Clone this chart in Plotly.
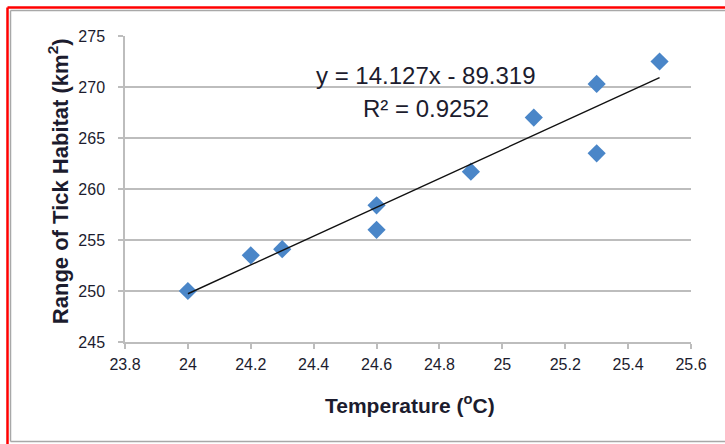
import plotly.graph_objects as go

# Data
temperature_c = [24.0, 24.2, 24.3, 24.6, 24.6, 24.9, 25.1, 25.3, 25.3, 25.5]
tick_habitat_km2 = [250.0, 253.5, 254.1, 258.4, 256.0, 261.7, 267.0, 270.3, 263.5, 272.5]

# Trendline as printed on the chart
slope = 14.127
intercept = -89.319
r_squared = 0.9252

x_ticks = [23.8, 24.0, 24.2, 24.4, 24.6, 24.8, 25.0, 25.2, 25.4, 25.6]
x_tick_labels = ["23.8", "24", "24.2", "24.4", "24.6", "24.8", "25", "25.2", "25.4", "25.6"]
y_ticks = [245, 250, 255, 260, 265, 270, 275]

trend_x = [min(temperature_c), max(temperature_c)]
trend_y = [slope * v + intercept for v in trend_x]

FONT = "Liberation Sans, Arial, sans-serif"
TXT = "#1c1c2e"
GRID = "#bdbdbd"

L, R, T, B = 125, 34, 36, 102

fig = go.Figure()
fig.add_trace(go.Scatter(
    x=temperature_c, y=tick_habitat_km2, mode="markers",
    marker=dict(symbol="diamond", size=14, color="#4a86c8",
                line=dict(width=0)),
    showlegend=False, hoverinfo="x+y"))
fig.add_trace(go.Scatter(
    x=trend_x, y=trend_y, mode="lines",
    line=dict(color="#111111", width=1.4),
    showlegend=False, hoverinfo="skip"))

fig.update_layout(
    width=725, height=444,
    margin=dict(l=L, r=R, t=T, b=B),
    paper_bgcolor="white", plot_bgcolor="white",
    font=dict(family=FONT, color=TXT),
    xaxis=dict(range=[23.8, 25.6], tickvals=x_ticks, ticktext=x_tick_labels,
               showgrid=False, zeroline=False,
               showline=True, linecolor=GRID, linewidth=1.5,
               ticks="outside", ticklen=5, tickcolor=GRID, tickwidth=1.5,
               tickfont=dict(size=16, color=TXT, family=FONT),
               ticklabelstandoff=2),
    yaxis=dict(range=[245, 275], tickvals=y_ticks,
               showgrid=True, gridcolor=GRID, gridwidth=1.5, zeroline=False,
               showline=True, linecolor=GRID, linewidth=1.5,
               ticks="outside", ticklen=5, tickcolor=GRID, tickwidth=1.5,
               tickfont=dict(size=16, color=TXT, family=FONT),
               ticklabelstandoff=10),
    annotations=[
        dict(text="Temperature (<sup>o</sup>C)", xref="paper", yref="paper",
             x=0.503, y=-0.204, showarrow=False, xanchor="center", yanchor="middle",
             font=dict(size=21, color=TXT, family=FONT, weight="bold")),
        dict(text="Range of Tick Habitat (km<sup>2</sup>)", xref="paper", yref="paper",
             x=-0.117, y=0.525, showarrow=False, textangle=-90,
             xanchor="center", yanchor="middle",
             font=dict(size=22, color=TXT, family=FONT, weight="bold")),
        dict(text=f"y = {slope}x - {abs(intercept)}", xref="x", yref="y",
             x=24.757, y=271.15, showarrow=False, xanchor="center", yanchor="middle",
             font=dict(size=24, color=TXT, family=FONT)),
        dict(text=f"R² = {r_squared}", xref="x", yref="y",
             x=24.757, y=267.9, showarrow=False, xanchor="center", yanchor="middle",
             font=dict(size=24, color=TXT, family=FONT)),
    ],
)

# Frame: red outer border (top/left) and grey inner border
pw, ph = 725 - L - R, 444 - T - B
def px(xp):
    return (xp - L) / pw
def py(yp):
    return 1 - (yp - T) / ph

shapes = [
    dict(type="line", xref="paper", yref="paper", x0=px(7.5), x1=px(730), y0=py(7.5), y1=py(7.5),
         line=dict(color="#ff0000", width=2.5)),
    dict(type="line", xref="paper", yref="paper", x0=px(7.5), x1=px(7.5), y0=py(7.5), y1=py(450),
         line=dict(color="#ff0000", width=2.5)),
    dict(type="line", xref="paper", yref="paper", x0=px(10.5), x1=px(730), y0=py(10.5), y1=py(10.5),
         line=dict(color="#a8a8a8", width=1.5)),
    dict(type="line", xref="paper", yref="paper", x0=px(10.5), x1=px(10.5), y0=py(10.5), y1=py(441.5),
         line=dict(color="#a8a8a8", width=1.5)),
    dict(type="line", xref="paper", yref="paper", x0=px(10.5), x1=px(730), y0=py(441.5), y1=py(441.5),
         line=dict(color="#a8a8a8", width=1.5)),
]
fig.update_layout(shapes=shapes)

fig.write_html("out.html",
               config={"displayModeBar": False},
               post_script="document.body.style.margin='0';document.body.style.overflow='hidden';")
